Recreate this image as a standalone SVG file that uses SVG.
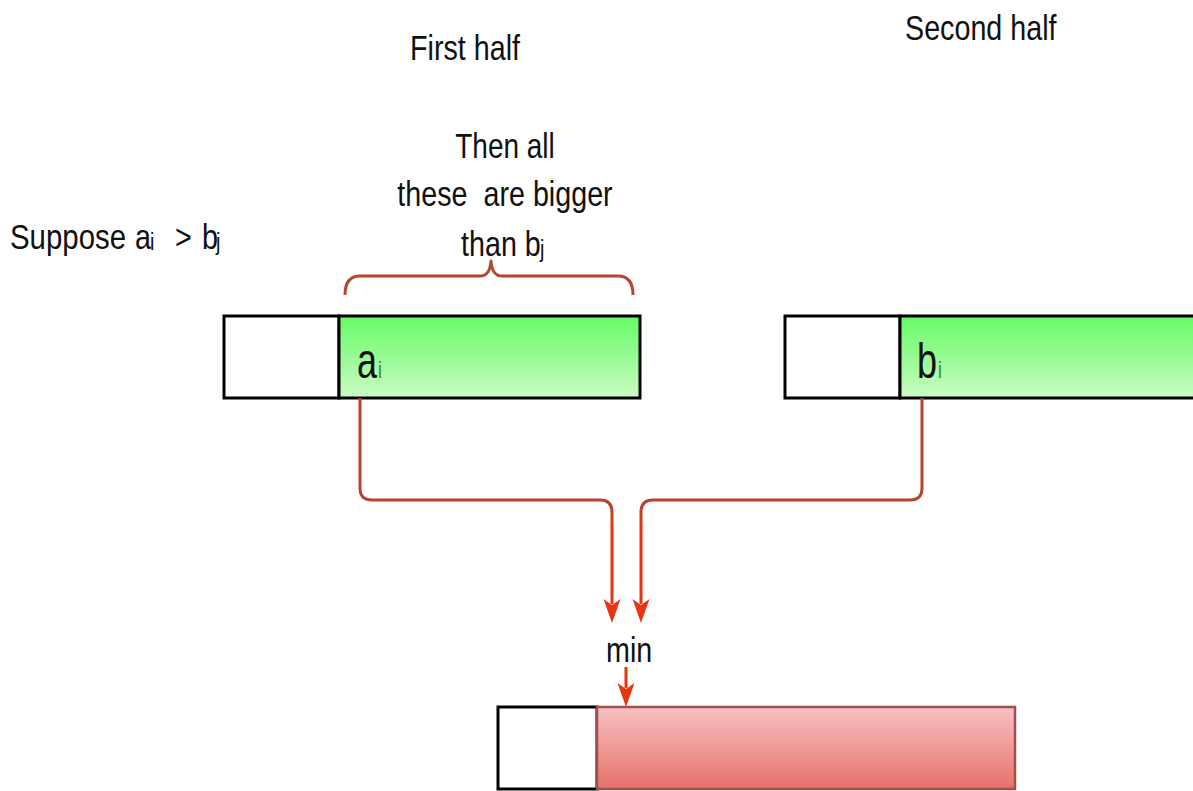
<svg xmlns="http://www.w3.org/2000/svg" width="1193" height="791" viewBox="0 0 1193 791">
  <defs>
    <style>
      .t { font-family: "Liberation Sans", Arial, sans-serif; font-size: 35px; fill: #111; }
      .big { font-family: "Liberation Sans", Arial, sans-serif; font-size: 50px; fill: #111; }
      .sub { font-family: "Liberation Sans", Arial, sans-serif; font-size: 24px; fill: #111; }
      .subg { font-family: "Liberation Sans", Arial, sans-serif; font-size: 23px; fill: #2e8b2e; }
      .cell { stroke: #000; stroke-width: 3; }
      .link { fill: none; stroke-width: 3; stroke-linejoin: round; }
      .brace { fill: none; stroke: #b5452f; stroke-width: 3; stroke-linejoin: round; }
    </style>
    <linearGradient id="green" x1="0" y1="0" x2="0" y2="1">
      <stop offset="0" stop-color="#66fb66"/>
      <stop offset="1" stop-color="#cbfbc4"/>
    </linearGradient>
    <linearGradient id="red" x1="0" y1="0" x2="0" y2="1">
      <stop offset="0" stop-color="#f6c2c2"/>
      <stop offset="1" stop-color="#e8706a"/>
    </linearGradient>
    <linearGradient id="wire" gradientUnits="userSpaceOnUse" x1="0" y1="398" x2="0" y2="622">
      <stop offset="0" stop-color="#b5452f"/>
      <stop offset="0.5" stop-color="#b5452f"/>
      <stop offset="0.56" stop-color="#e6350f"/>
      <stop offset="1" stop-color="#e6350f"/>
    </linearGradient>
    <marker id="arrow" markerUnits="userSpaceOnUse" markerWidth="24" markerHeight="17" refX="5" refY="8.5" orient="auto" overflow="visible">
      <path d="M0,0 L24,8.5 L0,17 L6,8.5 z" fill="#e6350f"/>
    </marker>
  </defs>

  <!-- headings -->
  <text class="t" transform="translate(410 60) scale(0.82 1)">First half</text>
  <text class="t" transform="translate(905 40) scale(0.82 1)">Second half</text>

  <!-- condition -->
  <g id="condition">
    <text class="t" transform="translate(10 249) scale(0.84 1)">Suppose</text>
    <text class="t" transform="translate(135 249) scale(0.82 1)">a</text>
    <text class="sub" transform="translate(150 250) scale(0.82 1)">i</text>
    <text class="t" transform="translate(175 249) scale(0.82 1)">&gt;</text>
    <text class="t" transform="translate(202 249) scale(0.82 1)">b</text>
    <text class="sub" transform="translate(216 250) scale(0.82 1)">j</text>
  </g>

  <!-- note with brace -->
  <g id="note">
    <text class="t" text-anchor="middle" transform="translate(505 158) scale(0.8 1)">Then all</text>
    <text class="t" text-anchor="middle" transform="translate(505 206) scale(0.82 1)" xml:space="preserve">these  are bigger</text>
    <text class="t" transform="translate(461 256) scale(0.82 1)">than b</text>
    <text class="sub" transform="translate(540 257) scale(0.82 1)">j</text>
    <path class="brace" d="M345,295 Q345,276 360,276 L480,276 Q490,276 491,261 Q492,276 502,276 L618,276 Q633,276 633,295"/>
  </g>

  <!-- first half array -->
  <g id="first-half">
    <rect class="cell" x="224" y="316" width="115" height="82" fill="#fff"/>
    <rect class="cell" x="339" y="316" width="301" height="82" fill="url(#green)"/>
    <text class="big" transform="translate(357 378) scale(0.72 1)">a</text>
    <text class="subg" transform="translate(378 378) scale(0.75 1)">i</text>
  </g>

  <!-- second half array -->
  <g id="second-half">
    <rect class="cell" x="785" y="316" width="115" height="82" fill="#fff"/>
    <rect class="cell" x="900" y="316" width="310" height="82" fill="url(#green)"/>
    <text class="big" transform="translate(917 378) scale(0.72 1)">b</text>
    <text class="subg" transform="translate(938 378) scale(0.75 1)">i</text>
  </g>

  <!-- merged output -->
  <g id="merged">
    <rect class="cell" x="498" y="707" width="99" height="82" fill="#fff"/>
    <rect x="597" y="707" width="418" height="82" fill="url(#red)" stroke="#a0504c" stroke-width="2.5"/>
  </g>

  <text id="min" class="t" transform="translate(606 662) scale(0.82 1)">min</text>

  <!-- connectors -->
  <g id="connectors">
    <path class="link" stroke="url(#wire)" d="M360,398 V488 Q360,500 372,500 H600 Q612,500 612,512 V604" marker-end="url(#arrow)"/>
    <path class="link" stroke="url(#wire)" d="M922,398 V488 Q922,500 910,500 H653 Q641,500 641,512 V604" marker-end="url(#arrow)"/>
    <path class="link" stroke="#e6350f" d="M626,667 V688" marker-end="url(#arrow)"/>
  </g>
</svg>
